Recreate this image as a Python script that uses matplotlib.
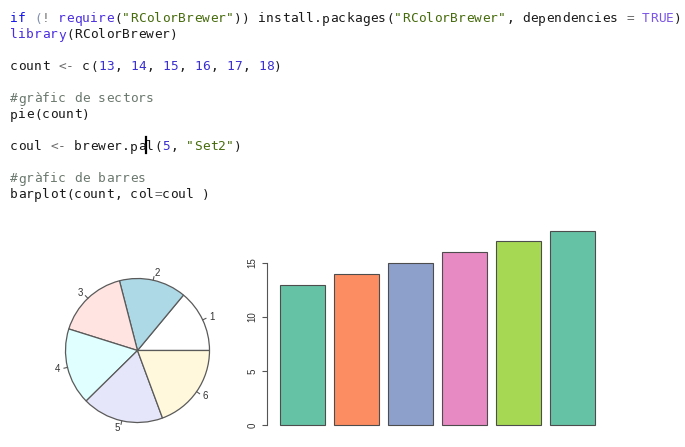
import matplotlib
matplotlib.use("Agg")
import matplotlib.pyplot as plt
import numpy as np

# ---- data ----
count = [13, 14, 15, 16, 17, 18]
pie_labels = ["1", "2", "3", "4", "5", "6"]
pie_colors = ["white", "lightblue", "mistyrose", "lightcyan", "lavender", "cornsilk"]
set2 = ["#66C2A5", "#FC8D62", "#8DA0CB", "#E78AC3", "#A6D854"]
bar_colors = [set2[i % len(set2)] for i in range(len(count))]
y_ticks = [0, 5, 10, 15]

W, H = 685, 447
fig = plt.figure(figsize=(W / 100, H / 100), dpi=100)
fig.patch.set_facecolor("white")

# ---- code text ----
D = "#1a1a1a"
KW = "#1414ee"
FN = "#4a2ee0"
PL = "#8090b0"
OP = "#6a6a6a"
STR = "#466b0c"
NUM = "#3a2fd0"
TR = "#7b55e6"
CM = "#6b786e"

num_tokens = []
for i, v in enumerate(count):
    if i:
        num_tokens.append((", ", D))
    num_tokens.append((str(v), NUM))

code_lines = [
    [("if", KW), (" ", D), ("(", PL), ("!", OP), (" ", D), ("require", FN), ("(", D),
     ('"RColorBrewer"', STR), ("))", D), (" install.packages(", D), ('"RColorBrewer"', STR),
     (", dependencies ", D), ("=", OP), (" ", D), ("TRUE", TR), (")", D)],
    [("library", FN), ("(RColorBrewer)", D)],
    [],
    [("count ", D), ("<-", OP), (" c(", D)] + num_tokens + [(")", D)],
    [],
    [("#gràfic de sectors", CM)],
    [("pie(count)", D)],
    [],
    [("coul ", D), ("<-", OP), (" brewer.pal(", D), ("5", NUM), (", ", D), ('"Set2"', STR), (")", D)],
    [],
    [("#gràfic de barres", CM)],
    [("barplot(count, col", D), ("=", OP), ("coul )", D)],
]

axt = fig.add_axes([0, 0, 1, 1])
axt.set_xlim(0, W)
axt.set_ylim(H, 0)
axt.axis("off")
x0, adv, y0, lh = 10, 8.0, 22.5, 16.0
for li, toks in enumerate(code_lines):
    col = 0
    yb = y0 + li * lh
    for txt, c in toks:
        for ch in txt:
            if ch != " ":
                axt.text(x0 + col * adv + adv / 2, yb, ch, color=c, ha="center", va="baseline",
                         family="DejaVu Sans Mono", fontsize=9.3)
            col += 1
# text cursor in "brewer.pa|l"
axt.plot([146.5, 146.5], [137, 153], color="black", lw=1.6)

# ---- pie chart ----
cx, cy, rpx = 137.5, 350.5, 72.0
half = 90.0
axp = fig.add_axes([(cx - half) / W, (H - cy - half) / H, 2 * half / W, 2 * half / H])
wedges, _ = axp.pie(count, colors=pie_colors, startangle=0, counterclock=True, radius=1.0,
                    wedgeprops=dict(edgecolor="#5a5a5a", linewidth=0.9))
lim = half / rpx
axp.set_xlim(-lim, lim)
axp.set_ylim(-lim, lim)
axp.axis("off")
for w, lab in zip(wedges, pie_labels):
    a = np.deg2rad((w.theta1 + w.theta2) / 2)
    ca, sa = np.cos(a), np.sin(a)
    axp.plot([ca, 1.05 * ca], [sa, 1.05 * sa], color="#5a5a5a", lw=0.8)
    axp.text(1.1 * ca, 1.1 * sa, lab, ha="left" if ca > 0 else "right", va="center",
             fontsize=7, family="Liberation Sans", color="#333333")

# ---- bar chart ----
xl, xr = 267.4, 607.6
yt, ybm = 222.8, 432.8
axb = fig.add_axes([xl / W, (H - ybm) / H, (xr - xl) / W, (ybm - yt) / H])
xs = [0.2 + 1.2 * i for i in range(len(count))]
axb.bar(xs, count, width=1.0, align="edge", color=bar_colors, edgecolor="#4d4d4d", linewidth=0.8)
n = len(count)
xmin, xmax = 0.2, 0.2 + 1.2 * (n - 1) + 1.0
ext = 0.04 * (xmax - xmin)
axb.set_xlim(xmin - ext, xmax + ext)
axb.set_ylim(-0.04 * max(count), max(count) * 1.04)
for s in ["top", "right", "bottom"]:
    axb.spines[s].set_visible(False)
axb.spines["left"].set_bounds(y_ticks[0], y_ticks[-1])
axb.spines["left"].set_color("#555555")
axb.spines["left"].set_linewidth(0.8)
axb.set_xticks([])
axb.set_yticks(y_ticks)
axb.set_yticklabels([str(t) for t in y_ticks], rotation=90, va="center",
                    fontsize=7, family="Liberation Sans", color="#333333")
axb.tick_params(axis="y", direction="out", length=3.3, width=0.8, color="#555555", pad=4)
axb.set_facecolor("none")

fig.savefig("out.png", dpi=100, facecolor="white")
